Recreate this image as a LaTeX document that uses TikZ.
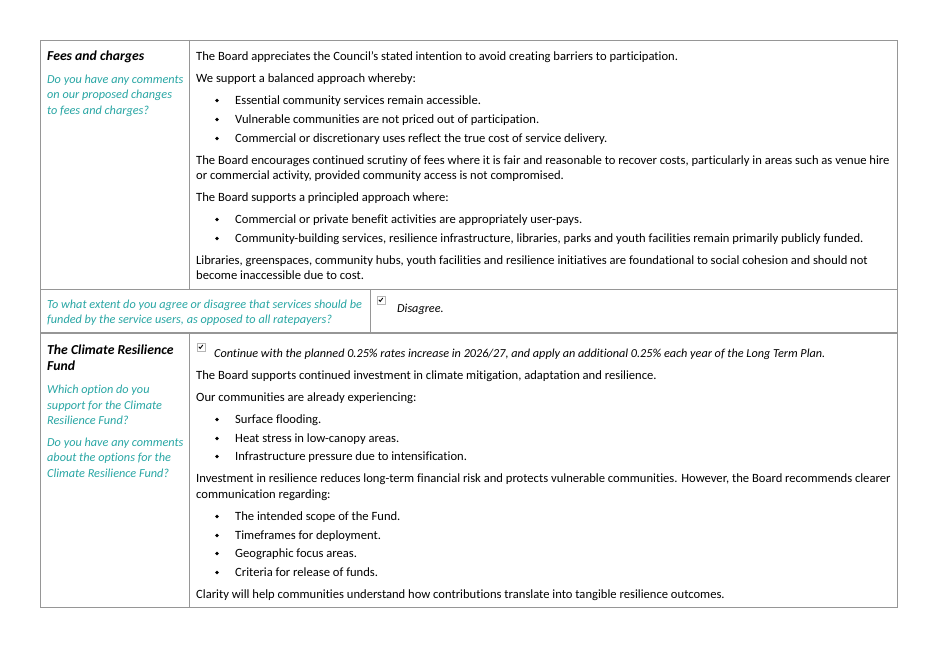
\documentclass[tikz,border=0pt]{standalone}
\usepackage{fontspec}
\setmainfont{Carlito}[Ligatures=NoCommon]
\definecolor{qteal}{RGB}{40,166,164}
\definecolor{rule}{RGB}{150,150,150}
\tikzset{
  txt/.style={anchor=base west, inner sep=0pt, font=\fontsize{12.6}{14}\selectfont},
  ask/.style={txt, text=qteal, font=\fontsize{12.25}{14}\selectfont\itshape},
  head/.style={txt, font=\fontsize{13.7}{15}\selectfont\bfseries\itshape},
  pick/.style={txt, font=\fontsize{12.2}{14}\selectfont\itshape},
  dot/.style={circle, fill=black, inner sep=0pt, minimum size=3.8pt},
  tick/.style={draw=rule!70, fill=white, line width=0.5pt, minimum size=7.5pt, inner sep=0pt}
}
\newcommand{\checkmk}[1]{%
  \draw[line width=0.9pt] ([shift={(1.8pt,-3.8pt)}]#1.north west) -- ([shift={(3.2pt,-5.4pt)}]#1.north west) -- ([shift={(5.8pt,-2pt)}]#1.north west);}
\begin{document}
\begin{tikzpicture}[x=1pt, y=-1pt]
\useasboundingbox[fill=white] (0,0) rectangle (934,661);

% Tabla
\draw[rule, line width=0.9pt] (40,40) rectangle (897,607);
\draw[rule, line width=0.9pt] (189,40) -- (189,289);
\draw[rule, line width=0.9pt] (40,289) -- (897,289);
\draw[rule, line width=0.9pt] (370,289) -- (370,333);
\draw[rule, line width=1.4pt] (40,333) -- (897,333);
\draw[rule, line width=0.9pt] (189,333) -- (189,607);

% Fila 1: izquierda
\node[head] (fees) at (47,61) {Fees and charges};
\node[ask] (q1a) at (47,83) {Do you have any comments};
\node[ask] (q1b) at (47,99) {on our proposed changes};
\node[ask] (q1c) at (47,114) {to fees and charges?};

% Fila 1: derecha
\foreach \y/\t in {60.5/{The Board appreciates the Council’s stated intention to avoid creating barriers to participation.},
  82.5/{We support a balanced approach whereby:},
  164.5/{The Board encourages continued scrutiny of fees where it is fair and reasonable to recover costs, particularly in areas such as venue hire},
  179.5/{or commercial activity, provided community access is not compromised.},
  201.5/{The Board supports a principled approach where:},
  264.5/{Libraries, greenspaces, community hubs, youth facilities and resilience initiatives are foundational to social cohesion and should not},
  279.5/{become inaccessible due to cost.}}
  \node[txt] (a\y) at (196,\y) {\t};

\foreach \y/\t in {104.5/{Essential community services remain accessible.},
  123.5/{Vulnerable communities are not priced out of participation.},
  142.5/{Commercial or discretionary uses reflect the true cost of service delivery.},
  223.5/{Commercial or private benefit activities are appropriately user-pays.},
  242.5/{Community-building services, resilience infrastructure, libraries, parks and youth facilities remain primarily publicly funded.}}
{
  \node[dot] (d\y) at (217,\y-4) {};
  \node[txt] (b\y) at (235,\y) {\t};
}

% Fila 2
\node[ask] (q2a) at (47,308) {To what extent do you agree or disagree that services should be};
\node[ask] (q2b) at (47,323) {funded by the service users, as opposed to all ratepayers?};
\node[tick] (box2) at (381,300) {};
\checkmk{box2}
\node[pick] (dis) at (397,312) {Disagree.};

% Fila 3: izquierda
\node[head] (crf1) at (47,354) {The Climate Resilience};
\node[head] (crf2) at (47,370) {Fund};
\node[ask] (q3a) at (47,393) {Which option do you};
\node[ask] (q3b) at (47,409) {support for the Climate};
\node[ask] (q3c) at (47,424) {Resilience Fund?};
\node[ask] (q3d) at (47,446) {Do you have any comments};
\node[ask] (q3e) at (47,461) {about the options for the};
\node[ask] (q3f) at (47,477) {Climate Resilience Fund?};

% Fila 3: derecha
\node[tick] (box3) at (201,347) {};
\checkmk{box3}
\node[pick] (opt) at (214,357) {Continue with the planned 0.25\% rates increase in 2026/27, and apply an additional 0.25\% each year of the Long Term Plan.};

\foreach \y/\t in {379.5/{The Board supports continued investment in climate mitigation, adaptation and resilience.},
  401.5/{Our communities are already experiencing:},
  482.5/{Investment in resilience reduces long-term financial risk and protects vulnerable communities. However, the Board recommends clearer},
  498.5/{communication regarding:},
  598.5/{Clarity will help communities understand how contributions translate into tangible resilience outcomes.}}
  \node[txt] (c\y) at (196,\y) {\t};

\foreach \y/\t in {423.5/{Surface flooding.},
  442.5/{Heat stress in low-canopy areas.},
  460.5/{Infrastructure pressure due to intensification.},
  520.5/{The intended scope of the Fund.},
  539.5/{Timeframes for deployment.},
  557.5/{Geographic focus areas.},
  576.5/{Criteria for release of funds.}}
{
  \node[dot] (e\y) at (217,\y-4) {};
  \node[txt] (f\y) at (235,\y) {\t};
}
\end{tikzpicture}
\end{document}
